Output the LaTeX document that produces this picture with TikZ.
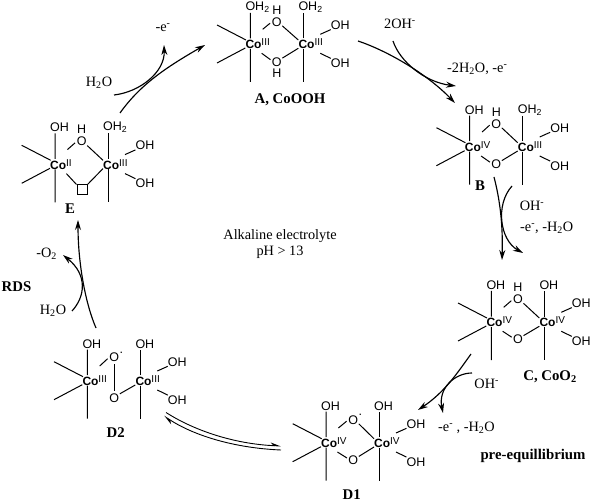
\documentclass[tikz,border=0pt]{standalone}
\usepackage{fontspec}
\setmainfont{Liberation Serif}
\setsansfont{Liberation Sans}
\usetikzlibrary{arrows.meta, positioning}

\tikzset{
    bond/.style={line width=1pt},
    rxn/.style={line width=1.15pt, -{Stealth[length=10pt,width=6pt]}},
    eqline/.style={line width=0.9pt},
    ligand/.style={inner sep=0pt, font=\sffamily\fontsize{12.5}{14}\selectfont},
    cobalt/.style={inner sep=0pt, anchor=west, font=\sffamily\fontsize{12}{14}\selectfont},
    oxygen/.style={circle, minimum size=12pt, inner sep=0pt, font=\sffamily\fontsize{12.5}{14}\selectfont},
    txt/.style={inner sep=0pt, font=\fontsize{14.3}{16.5}\selectfont},
    tag/.style={inner sep=0pt, font=\fontsize{14.8}{16}\selectfont\bfseries},
}

% left cobalt: name, position, oxidation state, ligand on top
\newcommand{\LeftCo}[4]{
    \begin{scope}[shift={#2}]
        \coordinate (#1tl) at (12.4,-14.7);
        \coordinate (#1bl) at (11.4,9.3);
        \coordinate (#1a) at (-33.3,-19);
        \coordinate (#1b) at (-4.3,-4);
        \coordinate (#1c) at (-33.3,19);
        \coordinate (#1d) at (-5,4);
        \coordinate (#1e) at (0,-5.5);
        \coordinate (#1f) at (0,-31);
        \coordinate (#1g) at (0,5);
        \coordinate (#1h) at (0,38);
        \node[cobalt] (#1) at (-5,0) {\textbf{Co}\raisebox{3pt}{\fontsize{10}{10}\selectfont #3}};
        \node[ligand, anchor=west] (#1top) at (-5,-37) {#4};
    \end{scope}
    \draw[bond] (#1a) -- (#1b) (#1c) -- (#1d) (#1e) -- (#1f) (#1g) -- (#1h);
}

% right cobalt with its two OH: name, position, oxidation state, ligand on top
\newcommand{\RightCo}[4]{
    \begin{scope}[shift={#2}]
        \coordinate (#1tr) at (-5,-4);
        \coordinate (#1br) at (-5,4.3);
        \coordinate (#1e) at (0,-5.5);
        \coordinate (#1f) at (0,-31);
        \coordinate (#1g) at (0,5);
        \coordinate (#1h) at (0,38);
        \coordinate (#1u) at (17,-9.7);
        \coordinate (#1v) at (17,9.3);
        \node[cobalt] (#1) at (-5,0) {\textbf{Co}\raisebox{3pt}{\fontsize{10}{10}\selectfont #3}};
        \node[ligand, anchor=west] (#1top) at (-5,-37) {#4};
        \node[ligand] (#1up) at (37,-19) {OH};
        \node[ligand] (#1dn) at (37,19) {OH};
    \end{scope}
    \draw[bond] (#1e) -- (#1f) (#1g) -- (#1h);
    \draw[bond] (#1u) -- (#1up.south west) (#1v) -- (#1dn.north west);
}

\newcommand{\UpperO}[5]{ % name, position, text, left cobalt, right cobalt
    \node[oxygen] (#1) at #2 {#3};
    \draw[bond] (#4tl) -- (#1.190) (#1.-35) -- (#5tr);
}
\newcommand{\LowerO}[5]{
    \node[oxygen] (#1) at #2 {#3};
    \draw[bond] (#4bl) -- (#1.160) (#1.35) -- (#5br);
}
\newcommand{\OxRad}{O\rlap{\smash{\raisebox{8.5pt}{\kern0.5pt.}}}}
\newcommand{\OHtwo}{OH\textsubscript{2}}

\begin{document}
\begin{tikzpicture}[x=1pt,y=-1pt]
    \useasboundingbox (0,0) rectangle (591,502);

    % A
    \LeftCo{Aa}{(250.3,44)}{III}{\OHtwo}
    \RightCo{Ab}{(303.3,44)}{III}{\OHtwo}
    \UpperO{Aup}{(276.8,22)}{O}{Aa}{Ab}
    \LowerO{Adn}{(276.8,62)}{O}{Aa}{Ab}
    \node[ligand, above=0.8pt of Aup] (Ahu) {H};
    \node[ligand, below=0pt of Adn] (Ahd) {H};
    \node[tag] (Alabel) at (290,100) {A, CoOOH};

    % B
    \LeftCo{Ba}{(469.7,146.7)}{IV}{OH}
    \RightCo{Bb}{(522.7,146.7)}{III}{\OHtwo}
    \UpperO{Bup}{(496.3,124)}{O}{Ba}{Bb}
    \LowerO{Bdn}{(496.3,164.5)}{O}{Ba}{Bb}
    \node[ligand, above=0.8pt of Bup] (Bhu) {H};
    \node[tag] (Blabel) at (480,186) {B};

    % C
    \LeftCo{Ca}{(491.3,322)}{IV}{OH}
    \RightCo{Cb}{(544.3,322)}{IV}{OH}
    \UpperO{Cup}{(518,299.5)}{O}{Ca}{Cb}
    \LowerO{Cdn}{(518,339.5)}{O}{Ca}{Cb}
    \node[ligand, above=0.8pt of Cup] (Chu) {H};
    \node[tag] (Clabel) at (550,377) {C, CoO\textsubscript{2}};

    % D1
    \LeftCo{Da}{(326,442.7)}{IV}{OH}
    \RightCo{Db}{(379,442.7)}{IV}{OH}
    \UpperO{Dup}{(353.3,420)}{\OxRad}{Da}{Db}
    \LowerO{Ddn}{(353.3,460.3)}{O}{Da}{Db}
    \node[tag] (Dlabel) at (351.7,494.5) {D1};

    % D2, the two oxygens are joined to each other
    \LeftCo{Fa}{(87.3,380.7)}{III}{OH}
    \RightCo{Fb}{(140.3,380.7)}{III}{OH}
    \node[oxygen] (Fup) at (114.3,357.5) {\OxRad};
    \node[oxygen] (Fdn) at (114.3,397.7) {O};
    \draw[bond] (Fatl) -- (Fup.190);
    \draw[bond] (Fup) -- (Fdn);
    \draw[bond] (Fdn.35) -- (Fbbr);
    \node[tag] (Flabel) at (115.7,432.7) {D2};

    % E, vacancy in the lower bridge
    \LeftCo{Ea}{(55,164.3)}{II}{OH}
    \RightCo{Eb}{(108,164.3)}{III}{\OHtwo}
    \UpperO{Eup}{(81.7,141.7)}{O}{Ea}{Eb}
    \node[ligand, above=0.8pt of Eup] (Ehu) {H};
    \node[draw, bond, minimum size=10pt, inner sep=0pt] (Esq) at (82,190) {};
    \draw[bond] (Eabl) -- (Esq.north west);
    \draw[bond] (Ebbr) -- (Esq.north east);
    \node[tag] (Elabel) at (70,209) {E};

    % A to B
    \coordinate (abs) at (358,41);
    \coordinate (abe) at (455,103);
    \coordinate (abi) at (393,41);
    \coordinate (abo) at (456,86);
    \draw[rxn] (abs) .. controls (385,50) and (425,72) .. (abe);
    \draw[rxn] (abi) .. controls (400,62) and (425,82) .. (abo);
    \node[txt] (abin) at (400,24) {2OH\textsuperscript{-}};
    \node[txt, anchor=west] (about) at (447,69) {-2H\textsubscript{2}O, -e\textsuperscript{-}};

    % B to C
    \coordinate (bcs) at (494,177);
    \coordinate (bce) at (502,260);
    \coordinate (bci) at (512,186);
    \coordinate (bco) at (523,253);
    \draw[rxn] (bcs) .. controls (500,200) and (503,225) .. (bce);
    \draw[rxn] (bci) .. controls (495,205) and (500,240) .. (bco);
    \node[txt] (bcin) at (532,205.7) {OH\textsuperscript{-}};
    \node[txt, anchor=west] (bcout) at (520,228) {-e\textsuperscript{-}, -H\textsubscript{2}O};

    % C to D1
    \coordinate (cds) at (471,354);
    \coordinate (cde) at (418,410);
    \coordinate (cdi) at (472,373);
    \coordinate (cdo) at (443,413);
    \draw[rxn] (cds) .. controls (458,372) and (445,392) .. (cde);
    \draw[rxn] (cdi) .. controls (455,373) and (438,388) .. (cdo);
    \node[txt] (cdin) at (486.7,384) {OH\textsuperscript{-}};
    \node[txt, anchor=west] (cdout) at (438,427.7) {-e\textsuperscript{-} , -H\textsubscript{2}O};
    \node[tag] (preeq) at (533,456) {pre-equillibrium};

    % D1 and D2 in equilibrium
    \coordinate (eqa) at (166,412.5);
    \coordinate (eqb) at (281,446);
    \coordinate (eqc) at (164,416);
    \coordinate (eqd) at (281,450);
    \draw[eqline, -{Stealth[harpoon,length=9pt,width=6pt]}] (eqa) .. controls (195,431) and (235,444) .. (eqb);
    \draw[eqline, {Stealth[harpoon,length=9pt,width=6pt]}-] (eqc) .. controls (193,435) and (233,448) .. (eqd);

    % D2 to E
    \coordinate (des) at (96,328);
    \coordinate (dee) at (78,220);
    \coordinate (dei) at (72,311);
    \coordinate (deo) at (63,255);
    \draw[rxn] (des) .. controls (86,305) and (78,265) .. (dee);
    \draw[rxn] (dei) .. controls (85,297) and (88,275) .. (deo);
    \node[txt] (dein) at (53,311) {H\textsubscript{2}O};
    \node[txt] (deout) at (46.7,254) {-O\textsubscript{2}};
    \node[tag] (rds) at (16.5,286.7) {RDS};

    % E to A
    \coordinate (eas) at (120,113);
    \coordinate (eae) at (205,45);
    \coordinate (eai) at (114,95);
    \coordinate (eao) at (164,45);
    \draw[rxn] (eas) .. controls (140,85) and (165,68) .. (eae);
    \draw[rxn] (eai) .. controls (140,92) and (165,72) .. (eao);
    \node[txt] (eain) at (99,83) {H\textsubscript{2}O};
    \node[txt] (eaout) at (163,28) {-e\textsuperscript{-}};

    % Centre
    \node[txt, align=center] (medium) at (280,244) {Alkaline electrolyte\\pH > 13};
\end{tikzpicture}
\end{document}
